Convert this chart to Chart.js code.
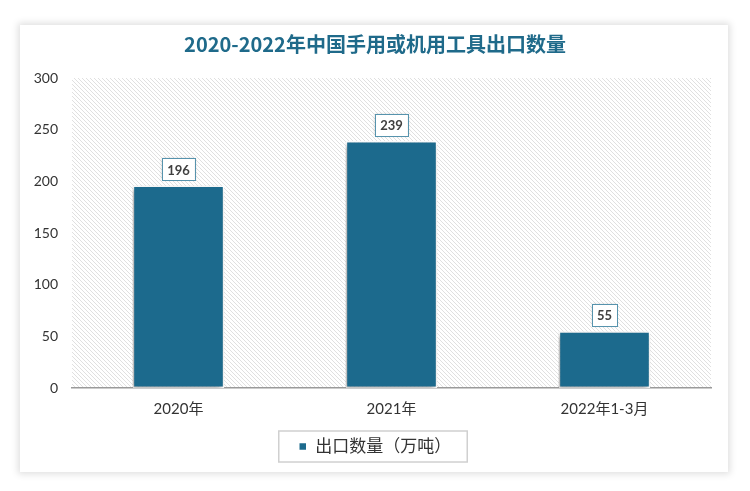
<!DOCTYPE html>
<html>
<head>
<meta charset="utf-8">
<script src="https://cdn.jsdelivr.net/npm/chart.js@4"></script>
<style>
  html, body { margin: 0; padding: 0; background: #fff; }
  #wrap { position: relative; width: 750px; height: 491px; background: #fff; }
  #card { position: absolute; left: 20px; top: 25px; width: 708px; height: 447px; background: #fff;
          box-shadow: 0 0 7px 2px rgba(0,0,0,0.13); }
  #c { position: absolute; left: 0; top: 0; }
</style>
</head>
<body>
<div id="wrap">
  <div id="card"></div>
  <canvas id="c" width="750" height="491"></canvas>
</div>
<script>
var categories = ["2020年", "2021年", "2022年1-3月"];
var exportVolume = [196, 239, 55];
var seriesName = "出口数量（万吨）";
var chartTitle = "2020-2022年中国手用或机用工具出口数量";
var yTicks = [0, 50, 100, 150, 200, 250, 300];

var barColor = "#1c6a8d";
var fontFam = "Lato, 'Noto Sans CJK SC', sans-serif";

function makeHatch() {
  var t = document.createElement("canvas");
  t.width = 4; t.height = 4;
  var g = t.getContext("2d");
  g.fillStyle = "#ffffff";
  g.fillRect(0, 0, 4, 4);
  g.fillStyle = "#e0e0e0";
  for (var i = 0; i < 4; i++) g.fillRect(i, i, 1, 1);
  return g.createPattern(t, "repeat");
}

var hatchPlugin = {
  id: "hatch",
  beforeDraw: function(chart) {
    var a = chart.chartArea, ctx = chart.ctx;
    ctx.save();
    ctx.fillStyle = makeHatch();
    ctx.fillRect(a.left, a.top, a.right - a.left, a.bottom - a.top);
    ctx.restore();
  },
  beforeDatasetDraw: function(chart) {
    var ctx = chart.ctx;
    ctx.save();
    ctx.shadowColor = "rgba(0,0,0,0.35)";
    ctx.shadowBlur = 5;
    ctx.shadowOffsetX = -2;
    ctx.shadowOffsetY = 2;
  },
  afterDatasetDraw: function(chart) {
    chart.ctx.restore();
  }
};

var labelPlugin = {
  id: "valueBoxes",
  afterDatasetsDraw: function(chart) {
    var ctx = chart.ctx;
    var meta = chart.getDatasetMeta(0);
    ctx.save();
    ctx.font = "bold 13px " + fontFam;
    ctx.textAlign = "center";
    ctx.textBaseline = "middle";
    meta.data.forEach(function(bar, i) {
      var txt = String(exportVolume[i]);
      var w = ctx.measureText(txt).width + 10;
      var h = 22;
      var x = bar.x - w / 2;
      var y = bar.y - 5 - h;
      ctx.shadowColor = "rgba(0,0,0,0.2)";
      ctx.shadowBlur = 3;
      ctx.fillStyle = "#ffffff";
      ctx.fillRect(x, y, w, h);
      ctx.shadowColor = "transparent";
      ctx.strokeStyle = "#5693ad";
      ctx.lineWidth = 1;
      ctx.strokeRect(Math.round(x) + 0.5, Math.round(y) + 0.5, Math.round(w), h);
      ctx.fillStyle = "#404040";
      ctx.fillText(txt, bar.x, y + h / 2 + 1);
    });
    ctx.restore();
  },
  afterDraw: function(chart) {
    var lg = chart.legend;
    if (!lg || !lg.legendHitBoxes.length) return;
    var hb = lg.legendHitBoxes[0];
    var ctx = chart.ctx;
    ctx.save();
    ctx.strokeStyle = "#d0d0d0";
    ctx.lineWidth = 1.5;
    ctx.strokeRect(hb.left - 20, hb.top + hb.height / 2 - 15.5, hb.width + 36, 31);
    ctx.restore();
  }
};

new Chart(document.getElementById("c"), {
  type: "bar",
  data: {
    labels: categories,
    datasets: [{
      label: seriesName,
      data: exportVolume,
      backgroundColor: barColor,
      borderColor: "#ffffff",
      borderWidth: 1.5,
      borderSkipped: false,
      categoryPercentage: 0.43,
      barPercentage: 1
    }]
  },
  options: {
    responsive: false,
    animation: false,
    layout: { padding: { left: 0, right: 0, top: 0, bottom: 26 } },
    plugins: {
      title: {
        display: true,
        text: chartTitle,
        color: "#1f6a8a",
        font: { family: "'Noto Sans CJK SC', sans-serif", size: 20, weight: "bold" },
        padding: { top: 32, bottom: 22 }
      },
      legend: {
        position: "bottom",
        labels: {
          color: "#333333",
          font: { family: fontFam, size: 17 },
          boxWidth: 8,
          boxHeight: 8,
          padding: 10
        }
      },
      tooltip: { enabled: false }
    },
    scales: {
      x: {
        grid: { display: false, drawTicks: false },
        border: { display: true, color: "#9a9a9a", width: 1.5 },
        ticks: { color: "#333333", font: { family: fontFam, size: 15 }, padding: 12 },
        afterFit: function(s) { s.height = 40; }
      },
      y: {
        min: 0,
        max: 300,
        afterBuildTicks: function(s) { s.ticks = yTicks.map(function(v) { return { value: v }; }); },
        grid: { display: false, drawTicks: false },
        border: { display: false },
        ticks: { color: "#333333", font: { family: fontFam, size: 14 }, padding: 14 },
        afterFit: function(s) { s.width = 72; }
      },
      yRight: {
        position: "right",
        min: 0,
        max: 300,
        grid: { display: false, drawTicks: false },
        border: { display: false },
        ticks: { display: false },
        afterFit: function(s) { s.width = 39; }
      }
    }
  },
  plugins: [hatchPlugin, labelPlugin]
});
</script>
</body>
</html>
